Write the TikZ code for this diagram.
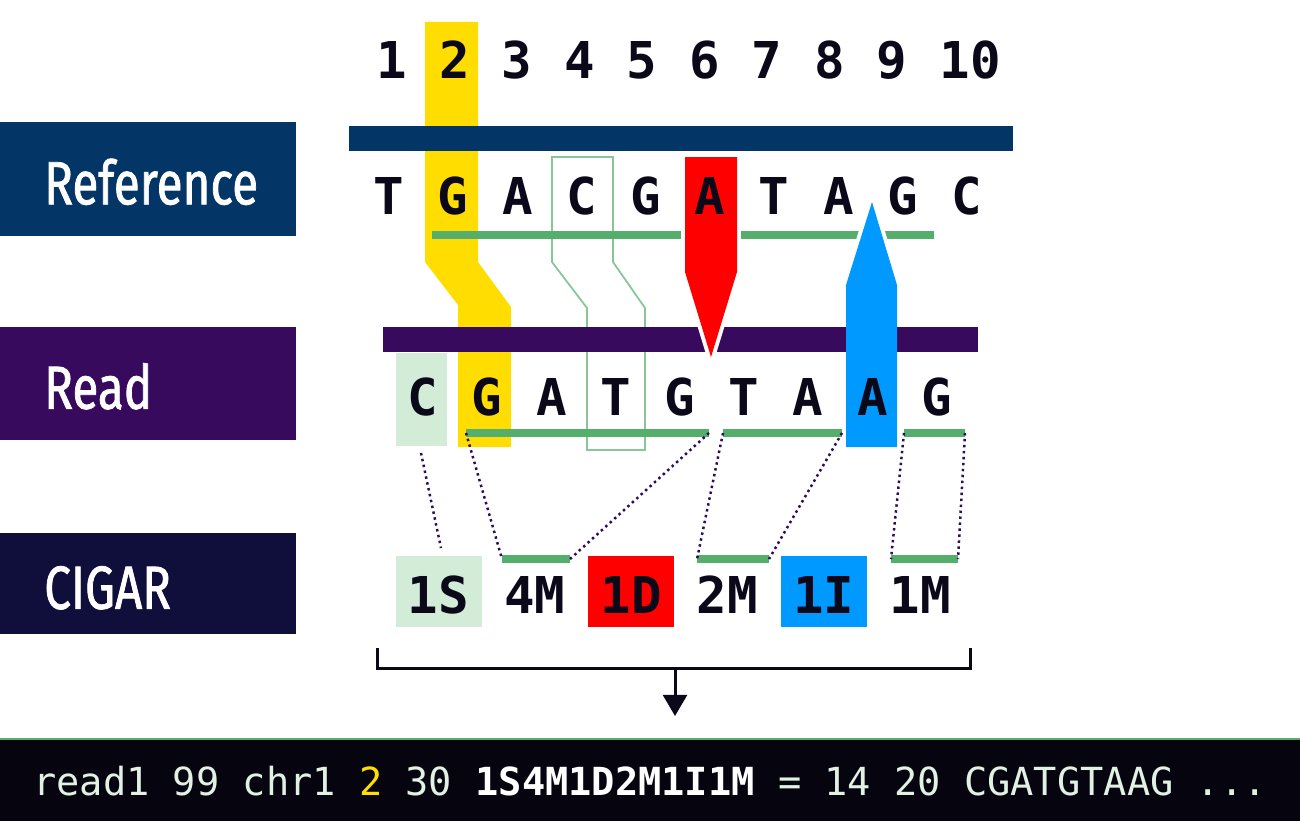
\documentclass[tikz,border=0pt]{standalone}
\usepackage{fontspec}
\usepackage{xcolor}
\usepackage{tikz}
\usetikzlibrary{arrows.meta, positioning}
\setmonofont{DejaVu Sans Mono}
\newfontfamily\tagfont[FakeStretch=0.78, FakeBold=1.2]{Fira Sans}
\definecolor{RefBlue}{HTML}{033566}
\definecolor{ReadPurple}{HTML}{380A5E}
\definecolor{CigarNavy}{HTML}{100E3A}
\definecolor{BarBlack}{HTML}{05040F}
\definecolor{MatchGreen}{HTML}{55AE6B}
\definecolor{SoftGreen}{HTML}{D2ECD7}
\definecolor{PosYellow}{HTML}{FFDD00}
\definecolor{DelRed}{HTML}{FF0000}
\definecolor{InsBlue}{HTML}{0099FF}
\definecolor{LinkPurple}{HTML}{2B0B5C}
\definecolor{InkBlack}{HTML}{0A0819}
\definecolor{SamText}{HTML}{E2F1E4}

\begin{document}
\begin{tikzpicture}[
  x=0.02cm, y=-0.02cm,
  tag/.style={anchor=north west, inner sep=0pt, inner xsep=0.88cm, text width=4.16cm,
              align=left, minimum height=#1, text height=1cm, text depth=0pt,
              text=white, font=\tagfont\fontsize{34.7}{36}\selectfont},
  seqch/.style={anchor=base, inner sep=0pt, text=InkBlack,
                font=\ttfamily\bfseries\fontsize{28.9}{30}\selectfont},
  op/.style={anchor=base, inner sep=0pt, minimum width=1.72cm, minimum height=1.42cm,
             text height=0.86cm, text depth=0pt, text=InkBlack,
             font=\ttfamily\bfseries\fontsize{28.9}{30}\selectfont},
  match/.style={MatchGreen, line width=4.5pt},
  link/.style={LinkPurple, line width=1.4pt, dash pattern=on 1.4pt off 2pt},
  brk/.style={InkBlack, line width=1.7pt},
  arr/.style={-{Triangle[width=13.6pt,length=12pt]}, InkBlack, line width=1.7pt},
]
\useasboundingbox (0,0) rectangle (1300,821);

% SAM line at the bottom
\fill[BarBlack] (0,739) rectangle (1300,821);
\draw[MatchGreen, line width=0.6pt] (0,739) -- (1300,739);
\node[anchor=base west, inner sep=0pt, text=SamText,
      font=\ttfamily\fontsize{22}{24}\selectfont] (samline) at (33,795)
  {read1 99 chr1 \textcolor{PosYellow}{2} 30 \textcolor{white}{\bfseries 1S4M1D2M1I1M} = 14 20 CGATGTAAG ...};

% row labels
\node[tag=2.28cm, fill=RefBlue] (reflabel) at (0,122) {Reference};
\node[tag=2.26cm, fill=ReadPurple] (readlabel) at (0,327) {Read};
\node[tag=2.02cm, fill=CigarNavy] (cigarlabel) at (0,533) {CIGAR};

% leftmost mapping position
\fill[PosYellow] (425,22) -- (478,22) -- (478,262) -- (511,307) -- (511,447)
  -- (458,447) -- (458,305) -- (425,262) -- cycle;

\fill[RefBlue] (349,126) rectangle (1013,151);
\foreach \x [count=\i] in {392,454.5,517,579.5,642,704.5,767,829.5,892,970}
  \node[seqch] (num\i) at (\x,78) {\i};

% skipped base C and soft clip
\draw[MatchGreen!70, line width=1pt] (552,157) -- (613,157) -- (613,262) -- (645,308)
  -- (645,450) -- (587,450) -- (587,308) -- (552,262) -- cycle;
\fill[SoftGreen] (396,353) rectangle (447,446);

% matched stretches
\coordinate (rf1a) at (432,235); \coordinate (rf1b) at (686,235);
\coordinate (rf2a) at (736,235); \coordinate (rf2b) at (866,235);
\coordinate (rf3a) at (878,235); \coordinate (rf3b) at (934,235);
\coordinate (rm1a) at (466,433); \coordinate (rm1b) at (709,433);
\coordinate (rm2a) at (723,433); \coordinate (rm2b) at (842,433);
\coordinate (rm3a) at (904,433); \coordinate (rm3b) at (965,433);
\coordinate (cm1a) at (502,559); \coordinate (cm1b) at (570,559);
\coordinate (cm2a) at (697,559); \coordinate (cm2b) at (769,559);
\coordinate (cm3a) at (891,559); \coordinate (cm3b) at (958,559);
\foreach \s in {rf1,rf2,rf3,rm1,rm2,rm3,cm1,cm2,cm3}
  \draw[match] (\s a) -- (\s b);

\fill[ReadPurple] (383,327) rectangle (978,352);

% insertion and deletion
\draw[white, line width=4.5pt, line join=round] (846,285) -- (872,202) -- (897,285);
\fill[InsBlue] (846,447) -- (846,285) -- (872,202) -- (897,285) -- (897,447) -- cycle;
\fill[DelRed, preaction={draw=white, line width=4.5pt, line join=round}]
  (685,157) -- (737,157) -- (737,272) -- (711,357) -- (685,272) -- cycle;

\foreach \b [count=\i] in {T,G,A,C,G,A,T,A,G,C}
  \node[seqch] (ref\i) at ({389+64.2*(\i-1)},214) {\b};
\foreach \b [count=\i] in {C,G,A,T,G,T,A,A,G}
  \node[seqch] (rd\i) at ({423+64.2*(\i-1)},415) {\b};

\foreach \o/\bg [count=\i] in {1S/SoftGreen,4M/none,1D/DelRed,2M/none,1I/InsBlue,1M/none}
  \node[op, fill=\bg] (op\i) at ({438.5+96.3*(\i-1)},613) {\o};

% read to CIGAR links
\coordinate (sc1) at (421,453);
\coordinate (sc2) at (441,548);
\draw[link] (sc1) -- (sc2);
\foreach \s in {1,2,3} {
  \draw[link] (rm\s a) -- (cm\s a);
  \draw[link] (rm\s b) -- (cm\s b);
}

% bracket and arrow to the SAM line
\coordinate (brL) at (377,648);
\coordinate (brR) at (970,648);
\coordinate (brmid) at (675,668);
\coordinate (samtop) at (675,716);
\draw[brk] (brL) -- ++(0,20) -| (brR);
\draw[arr] (brmid) -- (samtop);

\end{tikzpicture}
\end{document}
